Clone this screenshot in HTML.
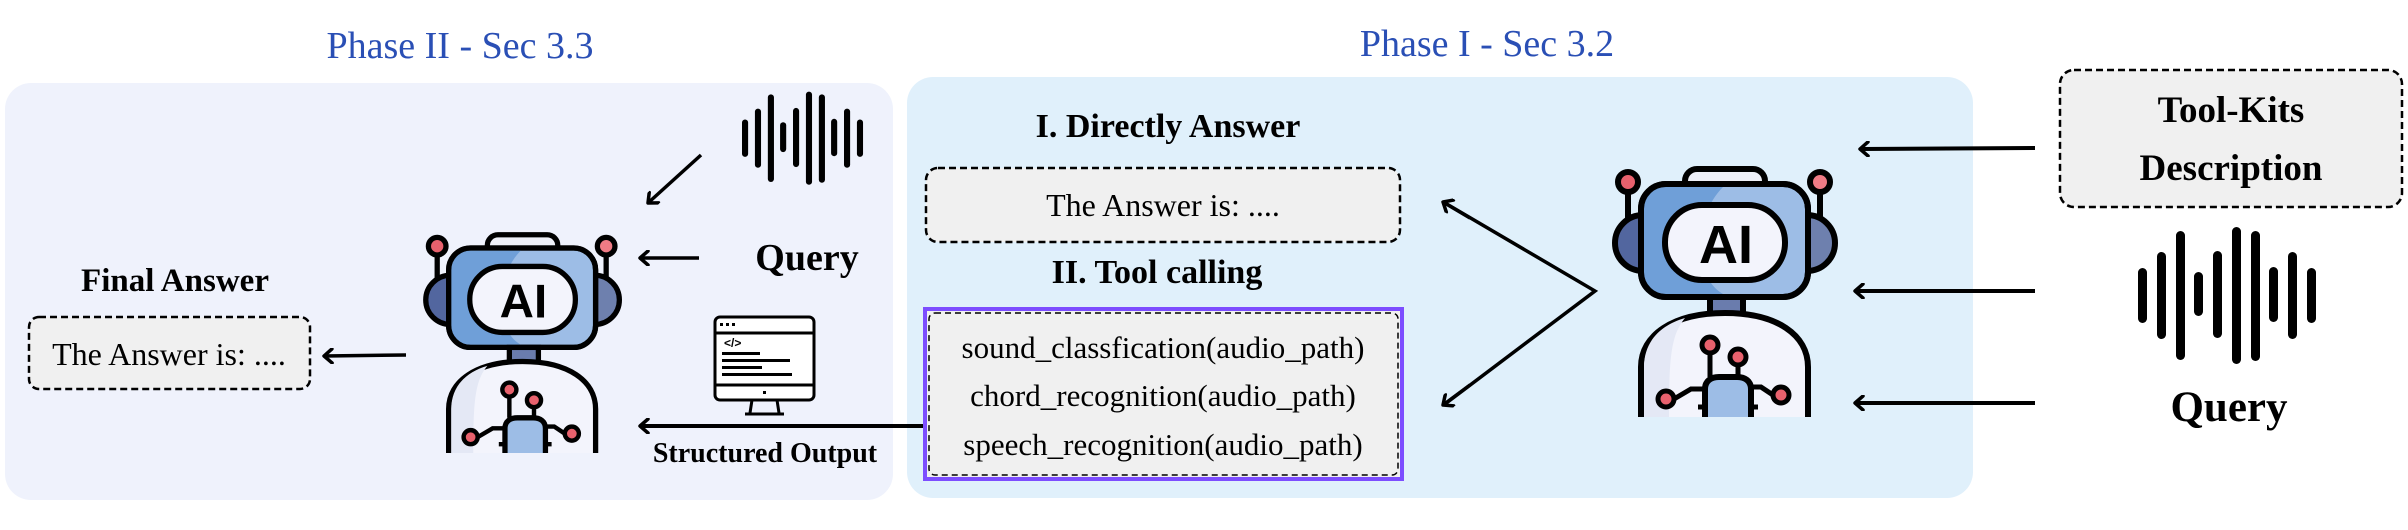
<!DOCTYPE html>
<html><head><meta charset="utf-8"><style>
html,body{margin:0;padding:0;background:#fff;}
svg{display:block;}
text{font-family:"Liberation Serif",serif;}
</style></head><body>
<svg width="2408" height="530" viewBox="0 0 2408 530" xmlns="http://www.w3.org/2000/svg">
<defs>
<marker id="ah" markerWidth="14" markerHeight="16" refX="11" refY="8" orient="auto" markerUnits="userSpaceOnUse">
<path d="M3,1 L11,8 L3,15" fill="none" stroke="#000" stroke-width="3.5" stroke-linecap="round" stroke-linejoin="round"/>
</marker>
<g id="robot">
 <g stroke="#000" stroke-width="6" stroke-linejoin="round" stroke-linecap="round">
  <line x1="15" y1="15" x2="15" y2="56"/>
  <line x1="207" y1="15" x2="207" y2="56"/>
  <circle cx="15" cy="15" r="10" fill="#e8616d"/>
  <circle cx="207" cy="15" r="10" fill="#ef7b85"/>
  <path d="M30,48 A28,28 0 0 0 30,104 Z" fill="#52669f"/>
  <path d="M194,48 A28,28 0 0 1 194,104 Z" fill="#6e80ae"/>
  <rect x="72" y="2" width="80" height="24" rx="12" fill="#eef0f8"/>
  <rect x="28" y="17" width="167" height="113" rx="25" fill="#9dbde6"/>
 </g>
 <path d="M53,20 H110 C80,50 80,110 110,127 H53 C40,127 31,118 31,105 V42 C31,29 40,20 53,20Z" fill="#6f9fd8"/>
 <rect x="28" y="17" width="167" height="113" rx="25" fill="none" stroke="#000" stroke-width="6"/>
 <rect x="52" y="38" width="120" height="75" rx="37" fill="#f3f4fc" stroke="#000" stroke-width="6"/>
 <text x="113" y="96" text-anchor="middle" style="font-family:'Liberation Sans',sans-serif;font-weight:bold;font-size:54px">AI</text>
 <rect x="97" y="130" width="33" height="20" fill="#6a7cad" stroke="#000" stroke-width="6"/>
 <path d="M28,250 V200 C28,168 60,146 112,146 C164,146 195,168 195,200 V250" fill="#f3f4fc" stroke="#000" stroke-width="6"/>
 <path d="M31,250 V200 C31,174 48,158 72,151 C58,168 56,190 56,250Z" fill="#e4e8f5"/>
 <g stroke="#000" stroke-width="5" fill="none">
  <line x1="97" y1="186" x2="97" y2="210"/>
  <line x1="125" y1="198" x2="125" y2="212"/>
  <path d="M61,232 L78,222 H92"/>
  <path d="M160,228 L148,220 H138"/>
  <line x1="85" y1="240" x2="92" y2="240"/>
  <line x1="138" y1="240" x2="145" y2="240"/>
 </g>
 <path d="M92,250 V222 C92,214 98,210 106,210 H124 C132,210 138,214 138,222 V250" fill="#9dbde6" stroke="#000" stroke-width="6"/>
 <g stroke="#000" stroke-width="5" fill="#e8616d">
  <circle cx="97" cy="178" r="8"/><circle cx="125" cy="190" r="8"/>
  <circle cx="53" cy="232" r="8"/><circle cx="168" cy="228" r="8"/>
 </g>
</g>
<g id="wave" fill="#000">
 <rect x="0" y="36" width="9" height="55" rx="4.5"/>
 <rect x="19" y="20" width="9" height="87" rx="4.5"/>
 <rect x="38" y="-1" width="9" height="129" rx="4.5"/>
 <rect x="56" y="40" width="9" height="44" rx="4.5"/>
 <rect x="75" y="19" width="9" height="87" rx="4.5"/>
 <rect x="94" y="-5" width="9" height="137" rx="4.5"/>
 <rect x="113" y="-1" width="9" height="130" rx="4.5"/>
 <rect x="131" y="35" width="9" height="55" rx="4.5"/>
 <rect x="150" y="20" width="9" height="87" rx="4.5"/>
 <rect x="169" y="36" width="9" height="55" rx="4.5"/>
</g>
</defs>

<rect x="5" y="83" width="888" height="417" rx="26" fill="#eff2fc"/>
<rect x="907" y="77" width="1066" height="421" rx="26" fill="#e0f0fb"/>

<text x="460" y="58" text-anchor="middle" fill="#2a4fb5" style="font-size:38px">Phase II - Sec 3.3</text>
<text x="1487" y="56" text-anchor="middle" fill="#2a4fb5" style="font-size:38px">Phase I - Sec 3.2</text>

<g transform="translate(742,95) scale(0.68)"><use href="#wave"/></g>
<line x1="701" y1="155" x2="648" y2="203" stroke="#000" stroke-width="3.5" marker-end="url(#ah)"/>
<g transform="translate(424,233) scale(0.88)"><use href="#robot"/></g>
<line x1="699" y1="258" x2="640" y2="258" stroke="#000" stroke-width="3.5" marker-end="url(#ah)"/>
<text x="807" y="270" text-anchor="middle" style="font-size:38px;font-weight:bold">Query</text>
<text x="175" y="291" text-anchor="middle" style="font-size:33px;font-weight:bold">Final Answer</text>
<rect x="29" y="317" width="281" height="72" rx="10" fill="#f0f0f0" stroke="#000" stroke-width="2.5" stroke-dasharray="7,4"/>
<text x="169" y="365" text-anchor="middle" style="font-size:32px">The Answer is: ....</text>
<line x1="406" y1="355" x2="324" y2="356" stroke="#000" stroke-width="3.5" marker-end="url(#ah)"/>
<g stroke="#000" stroke-width="3" fill="none">
 <rect x="715" y="317" width="99" height="83" rx="5" fill="#fff"/>
 <line x1="715" y1="333" x2="814" y2="333"/>
 <line x1="715" y1="385" x2="814" y2="385"/>
 <path d="M752,400 L750,413 M777,400 L779,413 M745,414 H784"/>
</g>
<g fill="#000"><rect x="720" y="323" width="3" height="3"/><rect x="726" y="323" width="3" height="3"/><rect x="732" y="323" width="3" height="3"/>
<rect x="722" y="352" width="38" height="3"/><rect x="722" y="359" width="68" height="3"/><rect x="722" y="366" width="40" height="3"/><rect x="722" y="373" width="70" height="3"/>
<rect x="763" y="391" width="3" height="3"/></g>
<text x="724" y="347" style="font-size:12px;font-family:'Liberation Sans',sans-serif;font-weight:bold">&lt;/&gt;</text>
<line x1="923" y1="426" x2="640" y2="426" stroke="#000" stroke-width="4" marker-end="url(#ah)"/>
<text x="765" y="462" text-anchor="middle" style="font-size:28px;font-weight:bold">Structured Output</text>

<text x="1168" y="137" text-anchor="middle" style="font-size:34px;font-weight:bold">I. Directly Answer</text>
<rect x="926" y="168" width="474" height="74" rx="12" fill="#f0f0f0" stroke="#000" stroke-width="2.5" stroke-dasharray="7,4"/>
<text x="1163" y="216" text-anchor="middle" style="font-size:32px">The Answer is: ....</text>
<text x="1157" y="283" text-anchor="middle" style="font-size:34px;font-weight:bold">II. Tool calling</text>
<rect x="925" y="309" width="477" height="170" fill="#f0f0f0" stroke="#7c4dff" stroke-width="4"/>
<rect x="929" y="313" width="469" height="162" rx="6" fill="none" stroke="#000" stroke-width="1.5" stroke-dasharray="6,4"/>
<text x="1163" y="358" text-anchor="middle" style="font-size:31px">sound_classfication(audio_path)</text>
<text x="1163" y="406" text-anchor="middle" style="font-size:31px">chord_recognition(audio_path)</text>
<text x="1163" y="455" text-anchor="middle" style="font-size:31px">speech_recognition(audio_path)</text>
<polyline points="1445,203 1595,291 1445,404" fill="none" stroke="#000" stroke-width="3.5"/>
<line x1="1470" y1="218" x2="1443" y2="202" stroke="#000" stroke-width="3.5" marker-end="url(#ah)"/>
<line x1="1470" y1="385" x2="1443" y2="405" stroke="#000" stroke-width="3.5" marker-end="url(#ah)"/>
<g transform="translate(1613,167)"><use href="#robot"/></g>

<line x1="2035" y1="148" x2="1860" y2="149" stroke="#000" stroke-width="4" marker-end="url(#ah)"/>
<line x1="2035" y1="291" x2="1855" y2="291" stroke="#000" stroke-width="4" marker-end="url(#ah)"/>
<line x1="2035" y1="403" x2="1855" y2="403" stroke="#000" stroke-width="4" marker-end="url(#ah)"/>
<rect x="2060" y="70" width="342" height="137" rx="14" fill="#f0f0f0" stroke="#000" stroke-width="2.5" stroke-dasharray="7,4"/>
<text x="2231" y="122" text-anchor="middle" style="font-size:37px;font-weight:bold">Tool-Kits</text>
<text x="2231" y="180" text-anchor="middle" style="font-size:37px;font-weight:bold">Description</text>
<g transform="translate(2138,232)"><use href="#wave"/></g>
<text x="2229" y="421" text-anchor="middle" style="font-size:43px;font-weight:bold">Query</text>
</svg>
</body></html>
